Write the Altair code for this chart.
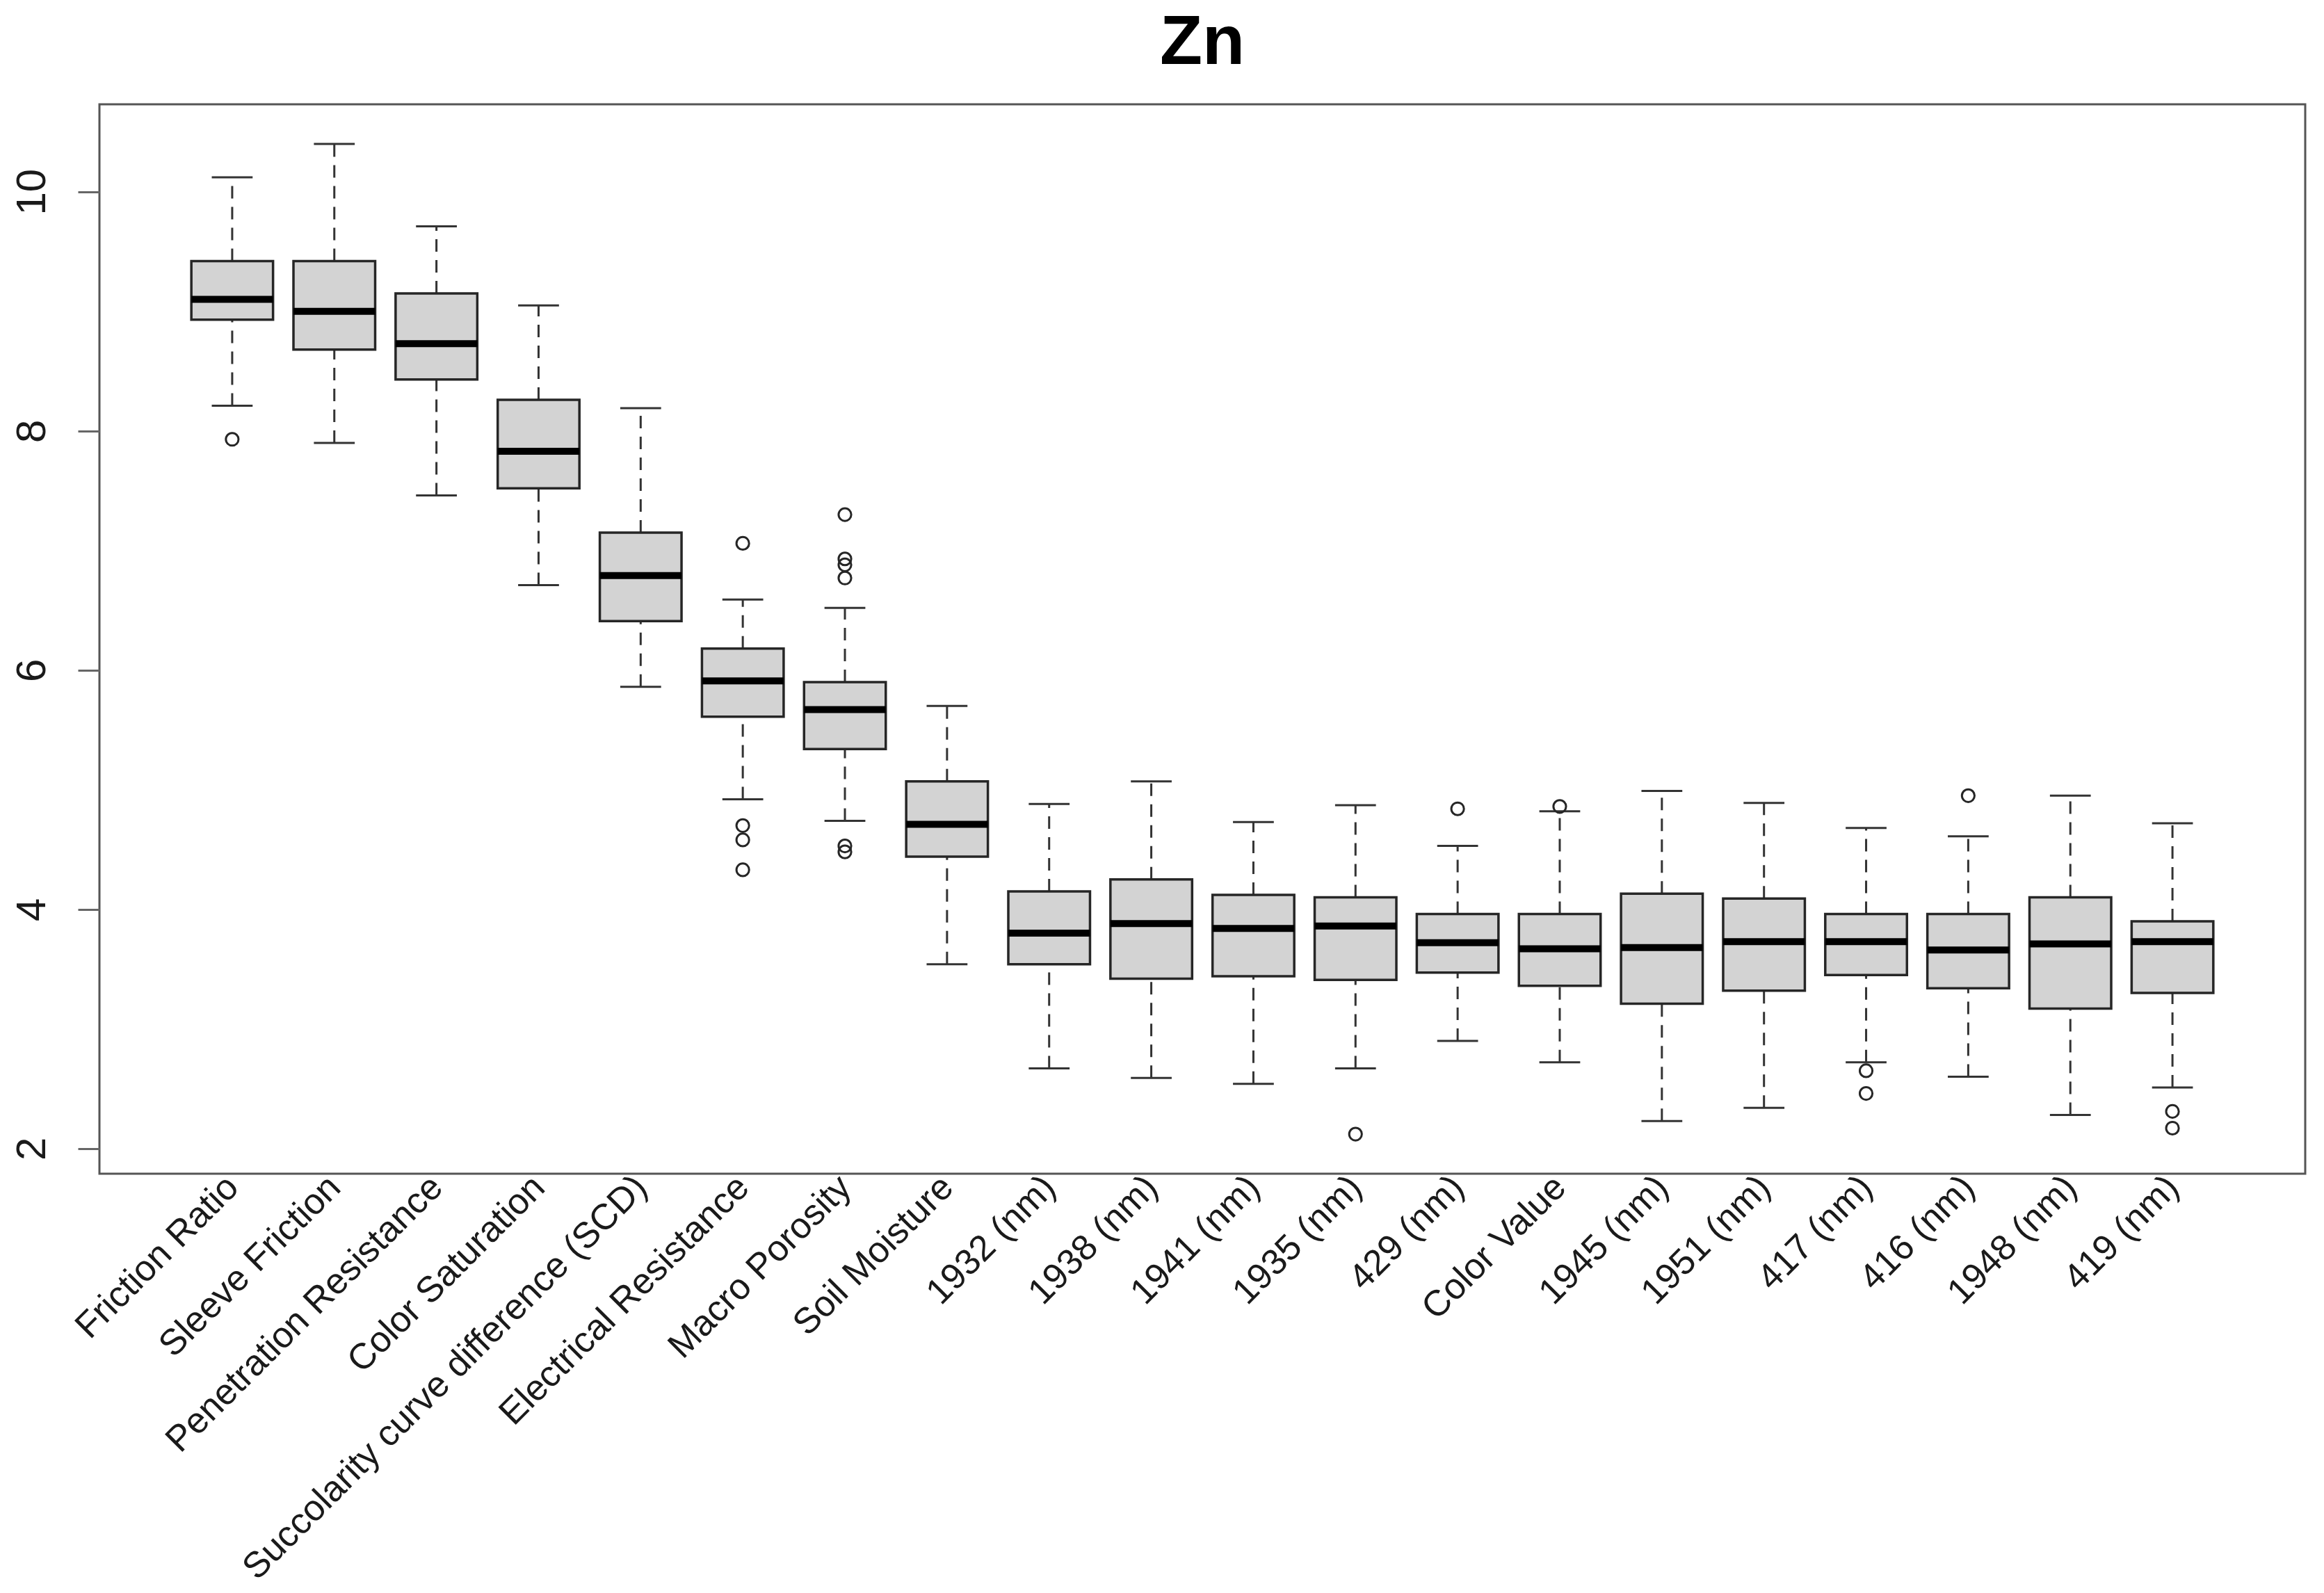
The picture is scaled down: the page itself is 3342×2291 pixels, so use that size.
import json
import altair as alt
import pandas as pd

names = ["Friction Ratio", "Sleeve Friction", "Penetration Resistance", "Color Saturation",
         "Succolarity curve difference (SCD)", "Electrical Resistance", "Macro Porosity",
         "Soil Moisture", "1932 (nm)", "1938 (nm)", "1941 (nm)", "1935 (nm)", "429 (nm)",
         "Color Value", "1945 (nm)", "1951 (nm)", "417 (nm)", "416 (nm)", "1948 (nm)", "419 (nm)"]
lower = [8.21, 7.90, 7.46, 6.71, 5.86, 4.92, 4.74, 3.54, 2.67, 2.59,
         2.54, 2.67, 2.90, 2.72, 2.23, 2.34, 2.72, 2.60, 2.28, 2.51]
q1 = [8.93, 8.68, 8.43, 7.52, 6.41, 5.61, 5.34, 4.44, 3.54, 3.42,
      3.44, 3.41, 3.47, 3.36, 3.21, 3.32, 3.45, 3.34, 3.17, 3.30]
median = [9.10, 9.00, 8.73, 7.83, 6.79, 5.91, 5.67, 4.71, 3.80, 3.88,
          3.84, 3.86, 3.72, 3.67, 3.68, 3.73, 3.73, 3.66, 3.71, 3.73]
q3 = [9.42, 9.42, 9.15, 8.26, 7.15, 6.18, 5.90, 5.07, 4.15, 4.25,
      4.12, 4.10, 3.96, 3.96, 4.13, 4.09, 3.96, 3.96, 4.10, 3.90]
upper = [10.12, 10.40, 9.71, 9.05, 8.19, 6.59, 6.52, 5.70, 4.88, 5.07,
         4.73, 4.87, 4.53, 4.82, 4.99, 4.89, 4.68, 4.61, 4.95, 4.72]
outliers = [[7.93], [], [], [], [], [7.06, 4.70, 4.58, 4.33],
            [7.30, 6.93, 6.88, 6.77, 4.53, 4.48], [], [], [],
            [], [2.12], [4.84], [4.86], [], [], [2.65, 2.46], [4.95], [], [2.31, 2.17]]

positions = list(range(1, len(names) + 1))
boxes = pd.DataFrame({"pos": positions, "name": names, "lo": lower, "q1": q1,
                      "med": median, "q3": q3, "hi": upper})
out_rows = [{"pos": p, "val": v} for p, vals in zip(positions, outliers) for v in vals]
outs = pd.DataFrame(out_rows)

FONT = "Liberation Sans, Arial, Helvetica, sans-serif"
label_expr = json.dumps(names) + "[round(datum.value) - 1]"

xscale = alt.Scale(domain=[-0.3, 21.3], nice=False, zero=False)
yscale = alt.Scale(domain=[1.789, 10.731], nice=False, zero=False)

xaxis = alt.Axis(values=positions, labelExpr=label_expr, title=None, ticks=False, domain=False,
                 grid=False, labelAngle=315, labelAlign="right", labelBaseline="middle",
                 labelPadding=11, labelFontSize=52, labelFont=FONT, labelColor="#1a1a1a",
                 labelOverlap=False, labelLimit=3000, labelFlush=False, labelBound=False)
yaxis = alt.Axis(values=[2, 4, 6, 8, 10], format=".0f", title=None, domain=False, grid=False,
                 tickSize=31, tickWidth=3, tickColor="#666666",
                 labelAngle=270, labelAlign="center", labelBaseline="middle",
                 labelPadding=66, labelFontSize=60, labelFont=FONT, labelColor="#1a1a1a")

base = alt.Chart(boxes).transform_calculate(
    xl="datum.pos - 0.4", xr="datum.pos + 0.4",
    cl="datum.pos - 0.2", cr="datum.pos + 0.2")

whisk_up = base.mark_rule(color="#333333", strokeWidth=3, strokeDash=[18, 12]).encode(
    x=alt.X("pos:Q", scale=xscale, axis=xaxis),
    y=alt.Y("q3:Q", scale=yscale, axis=yaxis), y2="hi:Q")
whisk_lo = base.mark_rule(color="#333333", strokeWidth=3, strokeDash=[18, 12]).encode(
    x="pos:Q", y="lo:Q", y2="q1:Q")
box = base.mark_rect(fill="#d3d3d3", stroke="#262626", strokeWidth=3.5).encode(
    x="xl:Q", x2="xr:Q", y="q1:Q", y2="q3:Q")
med = base.mark_rule(color="#000000", strokeWidth=10, strokeCap="butt").encode(
    x="xl:Q", x2="xr:Q", y="med:Q")
cap_hi = base.mark_rule(color="#333333", strokeWidth=3).encode(
    x="cl:Q", x2="cr:Q", y="hi:Q")
cap_lo = base.mark_rule(color="#333333", strokeWidth=3).encode(
    x="cl:Q", x2="cr:Q", y="lo:Q")
pts = alt.Chart(outs).mark_point(shape="circle", filled=False, color="#262626",
                                 strokeWidth=3, size=330, opacity=1).encode(
    x="pos:Q", y="val:Q")

chart = alt.layer(whisk_up, whisk_lo, box, med, cap_hi, cap_lo, pts).properties(
    width=3172, height=1538,
    title=alt.TitleParams("Zn", fontSize=100, font=FONT, fontWeight="bold", color="#000000",
                          anchor="middle", baseline="bottom", offset=-63),
    autosize=alt.AutoSizeParams(type="none"),
    padding={"left": 135, "top": 142, "right": 19, "bottom": 595},
    background="white",
).configure_view(stroke="#555555", strokeWidth=3)

chart.save("out.html", embed_options={"renderer": "svg", "actions": False})
